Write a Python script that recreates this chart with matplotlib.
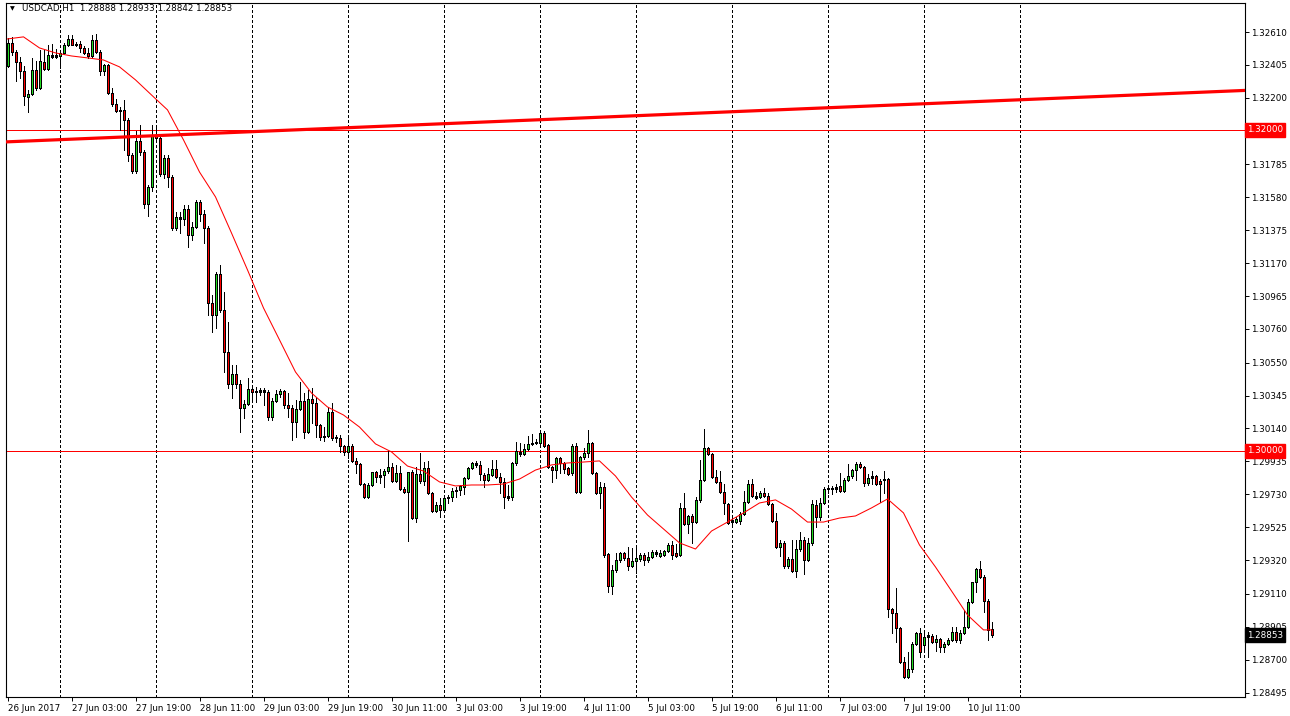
import numpy as np
import pandas as pd
import matplotlib
matplotlib.use("Agg")
import matplotlib.pyplot as plt

# USDCAD H1, 26 Jun 2017 11:00 .. 10 Jul 2017 17:00
symbol = "USDCAD,H1"
first_bar = "2017-06-26 11:00"

opens = [1.32399, 1.32542, 1.32486, 1.32424, 1.32368, 1.32206, 1.32224, 1.32374, 1.32262, 1.32424,
         1.32380, 1.32467, 1.32455, 1.32461, 1.32480, 1.32530, 1.32567, 1.32530, 1.32536, 1.32511,
         1.32480, 1.32461, 1.32561, 1.32486, 1.32368, 1.32405, 1.32231, 1.32162, 1.32118, 1.32125,
         1.32062, 1.31844, 1.31745, 1.31932, 1.31863, 1.31539, 1.31645, 1.31969, 1.31950, 1.31726,
         1.31826, 1.31707, 1.31389, 1.31458, 1.31445, 1.31508, 1.31346, 1.31396, 1.31551, 1.31477,
         1.31389, 1.30922, 1.30847, 1.31103, 1.30878, 1.30617, 1.30417, 1.30480, 1.30417, 1.30268,
         1.30293, 1.30386, 1.30367, 1.30367, 1.30380, 1.30367, 1.30212, 1.30311, 1.30355, 1.30374,
         1.30286, 1.30268, 1.30181, 1.30262, 1.30311, 1.30118, 1.30324, 1.30299, 1.30162, 1.30087,
         1.30093, 1.30243, 1.30081, 1.30081, 1.30031, 1.29994, 1.30031, 1.29938, 1.29919, 1.29794,
         1.29713, 1.29788, 1.29869, 1.29838, 1.29850, 1.29875, 1.29900, 1.29813, 1.29863, 1.29763,
         1.29744, 1.29869, 1.29582, 1.29857, 1.29813, 1.29894, 1.29738, 1.29626, 1.29663, 1.29632,
         1.29707, 1.29713, 1.29751, 1.29757, 1.29776, 1.29832, 1.29894, 1.29925, 1.29913, 1.29850,
         1.29819, 1.29850, 1.29888, 1.29838, 1.29807, 1.29719, 1.29713, 1.29925, 1.29994, 1.29981,
         1.30012, 1.30044, 1.30050, 1.30050, 1.30112, 1.30037, 1.29900, 1.29881, 1.29956, 1.29925,
         1.29894, 1.29863, 1.30031, 1.29744, 1.29962, 1.29987, 1.30050, 1.29863, 1.29738, 1.29776,
         1.29358, 1.29159, 1.29258, 1.29321, 1.29364, 1.29333, 1.29283, 1.29314, 1.29327, 1.29352,
         1.29321, 1.29339, 1.29370, 1.29346, 1.29352, 1.29377, 1.29414, 1.29364, 1.29352, 1.29645,
         1.29545, 1.29595, 1.29557, 1.29695, 1.29819, 1.30019, 1.29981, 1.29838, 1.29807, 1.29744,
         1.29670, 1.29557, 1.29557, 1.29564, 1.29607, 1.29682, 1.29794, 1.29719, 1.29713, 1.29738,
         1.29719, 1.29670, 1.29564, 1.29402, 1.29427, 1.29283, 1.29327, 1.29252, 1.29389, 1.29445,
         1.29321, 1.29427, 1.29663, 1.29589, 1.29676, 1.29763, 1.29769, 1.29763, 1.29782, 1.29751,
         1.29819, 1.29844, 1.29881, 1.29919, 1.29900, 1.29800, 1.29832, 1.29844, 1.29813, 1.29819,
         1.29825, 1.29015, 1.28990, 1.28897, 1.28685, 1.28592, 1.28641, 1.28797, 1.28866, 1.28791,
         1.28841, 1.28847, 1.28810, 1.28828, 1.28779, 1.28797, 1.28822, 1.28872, 1.28822, 1.28866,
         1.28903, 1.29059, 1.29184, 1.29265, 1.29215, 1.29065, 1.28888]
highs = [1.32573, 1.32580, 1.32498, 1.32455, 1.32399, 1.32249, 1.32449, 1.32430, 1.32498, 1.32498,
         1.32530, 1.32536, 1.32505, 1.32492, 1.32542, 1.32592, 1.32592, 1.32548, 1.32555, 1.32523,
         1.32511, 1.32592, 1.32598, 1.32498, 1.32411, 1.32411, 1.32262, 1.32193, 1.32143, 1.32187,
         1.32075, 1.31857, 1.31994, 1.32031, 1.31875, 1.31657, 1.32031, 1.32013, 1.31963, 1.31844,
         1.31844, 1.31720, 1.31489, 1.31489, 1.31533, 1.31533, 1.31427, 1.31564, 1.31564, 1.31502,
         1.31402, 1.30972, 1.31115, 1.31159, 1.30991, 1.30804, 1.30536, 1.30536, 1.30442, 1.30318,
         1.30455, 1.30399, 1.30399, 1.30392, 1.30392, 1.30380, 1.30330, 1.30380, 1.30386, 1.30380,
         1.30361, 1.30286, 1.30318, 1.30430, 1.30361, 1.30380, 1.30392, 1.30336, 1.30168, 1.30149,
         1.30274, 1.30299, 1.30100, 1.30100, 1.30037, 1.30087, 1.30044, 1.29956, 1.29925, 1.29800,
         1.29800, 1.29869, 1.29875, 1.29888, 1.29888, 1.30000, 1.29925, 1.29913, 1.29906, 1.29776,
         1.29869, 1.29881, 1.29900, 1.29987, 1.29931, 1.29938, 1.29744, 1.29682, 1.29707, 1.29719,
         1.29726, 1.29769, 1.29776, 1.29788, 1.29838, 1.29900, 1.29931, 1.29938, 1.29938, 1.29863,
         1.29894, 1.29944, 1.29944, 1.29863, 1.29832, 1.29788, 1.29931, 1.30056, 1.30050, 1.30044,
         1.30093, 1.30106, 1.30075, 1.30131, 1.30125, 1.30044, 1.29906, 1.29962, 1.29962, 1.29931,
         1.29900, 1.30044, 1.30050, 1.29969, 1.30019, 1.30131, 1.30056, 1.29869, 1.29807, 1.29800,
         1.29364, 1.29289, 1.29364, 1.29370, 1.29370, 1.29402, 1.29396, 1.29408, 1.29364, 1.29364,
         1.29370, 1.29383, 1.29383, 1.29383, 1.29383, 1.29427, 1.29439, 1.29420, 1.29676, 1.29738,
         1.29601, 1.29607, 1.29713, 1.29944, 1.30137, 1.30025, 1.29987, 1.29881, 1.29875, 1.29794,
         1.29676, 1.29601, 1.29589, 1.29620, 1.29751, 1.29819, 1.29825, 1.29744, 1.29751, 1.29769,
         1.29738, 1.29676, 1.29614, 1.29445, 1.29439, 1.29339, 1.29445, 1.29445, 1.29495, 1.29464,
         1.29458, 1.29695, 1.29695, 1.29707, 1.29776, 1.29782, 1.29782, 1.29794, 1.29863, 1.29832,
         1.29919, 1.29888, 1.29931, 1.29931, 1.29906, 1.29857, 1.29875, 1.29850, 1.29825, 1.29875,
         1.29832, 1.29022, 1.29146, 1.28903, 1.28716, 1.28747, 1.28810, 1.28872, 1.28897, 1.28885,
         1.28872, 1.28860, 1.28853, 1.28835, 1.28810, 1.28835, 1.28903, 1.28903, 1.28885, 1.29009,
         1.29078, 1.29184, 1.29271, 1.29314, 1.29227, 1.29078, 1.28933]
lows = [1.32393, 1.32467, 1.32305, 1.32324, 1.32156, 1.32112, 1.32218, 1.32249, 1.32255, 1.32374,
        1.32374, 1.32449, 1.32449, 1.32386, 1.32474, 1.32523, 1.32530, 1.32523, 1.32486, 1.32474,
        1.32449, 1.32455, 1.32480, 1.32343, 1.32343, 1.32224, 1.32150, 1.32112, 1.32000, 1.31875,
        1.31807, 1.31732, 1.31732, 1.31844, 1.31514, 1.31464, 1.31620, 1.31938, 1.31713, 1.31701,
        1.31645, 1.31377, 1.31377, 1.31358, 1.31408, 1.31271, 1.31315, 1.31389, 1.31433, 1.31296,
        1.30847, 1.30741, 1.30766, 1.30866, 1.30492, 1.30392, 1.30330, 1.30392, 1.30118, 1.30206,
        1.30286, 1.30324, 1.30305, 1.30349, 1.30286, 1.30193, 1.30193, 1.30305, 1.30336, 1.30268,
        1.30212, 1.30068, 1.30087, 1.30255, 1.30081, 1.30112, 1.30174, 1.30087, 1.30068, 1.30062,
        1.30087, 1.30068, 1.30056, 1.29994, 1.29975, 1.29956, 1.29931, 1.29863, 1.29788, 1.29707,
        1.29707, 1.29782, 1.29807, 1.29800, 1.29776, 1.29863, 1.29807, 1.29807, 1.29757, 1.29738,
        1.29439, 1.29576, 1.29557, 1.29800, 1.29788, 1.29732, 1.29620, 1.29620, 1.29589, 1.29620,
        1.29676, 1.29688, 1.29713, 1.29726, 1.29732, 1.29825, 1.29888, 1.29900, 1.29819, 1.29776,
        1.29813, 1.29844, 1.29832, 1.29738, 1.29645, 1.29695, 1.29695, 1.29913, 1.29969, 1.29975,
        1.30006, 1.30037, 1.30044, 1.30044, 1.30025, 1.29894, 1.29807, 1.29832, 1.29863, 1.29863,
        1.29850, 1.29850, 1.29738, 1.29738, 1.29950, 1.29962, 1.29857, 1.29732, 1.29645, 1.29339,
        1.29121, 1.29109, 1.29246, 1.29308, 1.29321, 1.29258, 1.29277, 1.29240, 1.29314, 1.29289,
        1.29308, 1.29333, 1.29346, 1.29339, 1.29346, 1.29370, 1.29327, 1.29339, 1.29346, 1.29539,
        1.29489, 1.29427, 1.29551, 1.29682, 1.29813, 1.29975, 1.29832, 1.29800, 1.29738, 1.29607,
        1.29545, 1.29539, 1.29551, 1.29545, 1.29601, 1.29676, 1.29713, 1.29701, 1.29707, 1.29713,
        1.29663, 1.29557, 1.29396, 1.29346, 1.29271, 1.29271, 1.29246, 1.29215, 1.29377, 1.29233,
        1.29314, 1.29414, 1.29526, 1.29570, 1.29670, 1.29738, 1.29732, 1.29744, 1.29744, 1.29744,
        1.29813, 1.29832, 1.29819, 1.29894, 1.29782, 1.29788, 1.29794, 1.29788, 1.29682, 1.29738,
        1.28966, 1.28866, 1.28810, 1.28679, 1.28585, 1.28585, 1.28623, 1.28791, 1.28716, 1.28760,
        1.28716, 1.28804, 1.28754, 1.28747, 1.28747, 1.28791, 1.28816, 1.28810, 1.28804, 1.28860,
        1.28897, 1.29053, 1.29121, 1.29209, 1.28997, 1.28822, 1.28842]
closes = [1.32542, 1.32486, 1.32424, 1.32368, 1.32212, 1.32224, 1.32374, 1.32262, 1.32430, 1.32380,
          1.32467, 1.32455, 1.32467, 1.32480, 1.32530, 1.32567, 1.32530, 1.32536, 1.32511, 1.32480,
          1.32461, 1.32561, 1.32486, 1.32368, 1.32405, 1.32231, 1.32162, 1.32118, 1.32125, 1.32062,
          1.31844, 1.31745, 1.31932, 1.31863, 1.31539, 1.31645, 1.31969, 1.31950, 1.31726, 1.31826,
          1.31707, 1.31389, 1.31458, 1.31445, 1.31508, 1.31346, 1.31396, 1.31551, 1.31477, 1.31389,
          1.30922, 1.30847, 1.31103, 1.30878, 1.30617, 1.30417, 1.30480, 1.30417, 1.30268, 1.30293,
          1.30386, 1.30367, 1.30370, 1.30380, 1.30367, 1.30212, 1.30311, 1.30355, 1.30374, 1.30286,
          1.30268, 1.30181, 1.30262, 1.30311, 1.30118, 1.30324, 1.30299, 1.30162, 1.30087, 1.30093,
          1.30243, 1.30081, 1.30078, 1.30031, 1.29994, 1.30031, 1.29938, 1.29919, 1.29794, 1.29713,
          1.29788, 1.29869, 1.29838, 1.29850, 1.29875, 1.29900, 1.29813, 1.29863, 1.29763, 1.29744,
          1.29869, 1.29582, 1.29857, 1.29813, 1.29894, 1.29738, 1.29626, 1.29663, 1.29632, 1.29707,
          1.29713, 1.29751, 1.29757, 1.29782, 1.29832, 1.29894, 1.29925, 1.29913, 1.29857, 1.29819,
          1.29857, 1.29888, 1.29838, 1.29807, 1.29713, 1.29707, 1.29925, 1.30000, 1.29981, 1.30012,
          1.30044, 1.30050, 1.30056, 1.30112, 1.30031, 1.29900, 1.29881, 1.29956, 1.29925, 1.29888,
          1.29857, 1.30031, 1.29744, 1.29962, 1.29987, 1.30050, 1.29863, 1.29738, 1.29776, 1.29352,
          1.29159, 1.29258, 1.29321, 1.29364, 1.29333, 1.29283, 1.29314, 1.29333, 1.29352, 1.29321,
          1.29339, 1.29370, 1.29358, 1.29364, 1.29377, 1.29414, 1.29352, 1.29346, 1.29645, 1.29545,
          1.29595, 1.29557, 1.29695, 1.29819, 1.30019, 1.29981, 1.29838, 1.29807, 1.29744, 1.29676,
          1.29551, 1.29570, 1.29576, 1.29607, 1.29682, 1.29794, 1.29719, 1.29707, 1.29738, 1.29719,
          1.29670, 1.29564, 1.29402, 1.29427, 1.29283, 1.29327, 1.29252, 1.29389, 1.29445, 1.29321,
          1.29427, 1.29670, 1.29589, 1.29676, 1.29763, 1.29769, 1.29763, 1.29776, 1.29751, 1.29819,
          1.29844, 1.29881, 1.29919, 1.29900, 1.29800, 1.29832, 1.29844, 1.29794, 1.29794, 1.29825,
          1.29015, 1.28990, 1.28897, 1.28685, 1.28592, 1.28641, 1.28797, 1.28866, 1.28747, 1.28841,
          1.28853, 1.28810, 1.28828, 1.28779, 1.28797, 1.28822, 1.28872, 1.28822, 1.28866, 1.28903,
          1.29059, 1.29184, 1.29265, 1.29215, 1.29065, 1.28885, 1.28853]

# moving average every 4 bars
ma_bars = list(range(0, 245, 4)) + [246]
ma_values = [1.32567, 1.32580, 1.32511, 1.32480, 1.32461, 1.32449, 1.32436, 1.32393, 1.32312, 1.32218,
             1.32125, 1.31938, 1.31738, 1.31583, 1.31358, 1.31128, 1.30891, 1.30692, 1.30492, 1.30361,
             1.30274, 1.30224, 1.30149, 1.30044, 1.29994, 1.29906, 1.29875, 1.29807, 1.29782, 1.29788,
             1.29788, 1.29794, 1.29825, 1.29881, 1.29913, 1.29925, 1.29931, 1.29938, 1.29844, 1.29713,
             1.29601, 1.29514, 1.29427, 1.29389, 1.29501, 1.29557, 1.29614, 1.29676, 1.29695, 1.29638,
             1.29557, 1.29557, 1.29582, 1.29595, 1.29645, 1.29701, 1.29614, 1.29414, 1.29277, 1.29128,
             1.28978, 1.28885, 1.28885]

trend_bars = [-1, 310]
trend_prices = [1.31925, 1.32247]
levels = [1.32000, 1.30000]

price_ticks = [1.32610, 1.32405, 1.32200, 1.31785, 1.31580, 1.31375, 1.31170, 1.30965, 1.30760,
               1.30550, 1.30345, 1.30140, 1.29935, 1.29730, 1.29525, 1.29320, 1.29110, 1.28905,
               1.28700, 1.28495]
time_labels = ["26 Jun 2017", "27 Jun 03:00", "27 Jun 19:00", "28 Jun 11:00", "29 Jun 03:00",
               "29 Jun 19:00", "30 Jun 11:00", "3 Jul 03:00", "3 Jul 19:00", "4 Jul 11:00",
               "5 Jul 03:00", "5 Jul 19:00", "6 Jul 11:00", "7 Jul 03:00", "7 Jul 19:00",
               "10 Jul 11:00"]

o = np.array(opens)
h = np.array(highs)
l = np.array(lows)
c = np.array(closes)
x = np.arange(len(o))

# hourly bar clock (weekdays only), used for the day separators
hours = pd.date_range(first_bar, "2017-07-11 23:00", freq="h")
hours = hours[hours.dayofweek < 5]
day_starts = np.flatnonzero(hours.hour == 0)

fs = 6.3
ymin, ymax = 1.28467, 1.32791
px = (ymax - ymin) / 694          # one screen pixel in price units
pt = 72 / 100                     # one screen pixel in points

plt.rcParams["font.family"] = "DejaVu Sans"
fig = plt.figure(figsize=(12.9, 7.16), dpi=100)
ax = fig.add_axes([6 / 1290, 19 / 716, 1239 / 1290, 694 / 716])

ax.set_xlim(-0.375, 309.375)
ax.set_ylim(ymin, ymax)

for d in day_starts:
    ax.axvline(d, color="black", lw=pt, dashes=(2.2, 2.2), zorder=1, antialiased=False)
for lv in levels:
    ax.axhline(lv, color="#ff0000", lw=pt, zorder=2, antialiased=False)

# candles: black wick, black 3px body, 1px coloured core
up = c >= o
bot = np.minimum(o, c)
top = np.maximum(o, c)
top = np.maximum(top, bot + px)
ax.vlines(x, l, h, color="black", lw=pt, zorder=3, antialiased=False)
ax.vlines(x, bot, top, color="black", lw=3 * pt, zorder=4, antialiased=False,
          capstyle="butt")
core = (top - bot) > 2.5 * px
ax.vlines(x[core], bot[core] + px, top[core] - px,
          colors=np.where(up[core], "#22dd22", "#ff0000"), lw=pt, zorder=5,
          antialiased=False, capstyle="butt")

ax.plot(ma_bars, ma_values, color="#ff0000", lw=0.75, zorder=6)
ax.plot(trend_bars, trend_prices, color="#ff0000", lw=2.3, zorder=7, solid_capstyle="butt")

# axes look
for s in ax.spines.values():
    s.set_linewidth(0.8)
ax.yaxis.tick_right()
ax.set_yticks(price_ticks)
ax.set_yticklabels([f"{p:.5f}" for p in price_ticks], fontsize=fs)
ax.tick_params(axis="y", length=3, width=0.7, pad=1.5)
ax.set_xticks(np.arange(0, 16 * len(time_labels), 16))
ax.set_xticklabels(time_labels, fontsize=fs, ha="left")
ax.tick_params(axis="x", length=3, width=0.7, pad=2)

def price_box(p, face):
    ax.text(1.0015, p, f"{p:.5f}", transform=ax.get_yaxis_transform(), ha="left", va="center",
            fontsize=fs, color="white", zorder=10,
            bbox=dict(boxstyle="square,pad=0.25", fc=face, ec=face))

for lv in levels:
    price_box(lv, "#ff0000")
price_box(closes[-1], "black")

fig.text(10 / 1290, 1 - 9 / 716, "\u25bc", fontsize=4.5, va="center", ha="left")
fig.text(22 / 1290, 1 - 9 / 716,
         f"{symbol}  {opens[-1]:.5f} {highs[-1]:.5f} {lows[-1]:.5f} {closes[-1]:.5f}",
         fontsize=fs, va="center", ha="left")

fig.savefig("out.png", dpi=100)
